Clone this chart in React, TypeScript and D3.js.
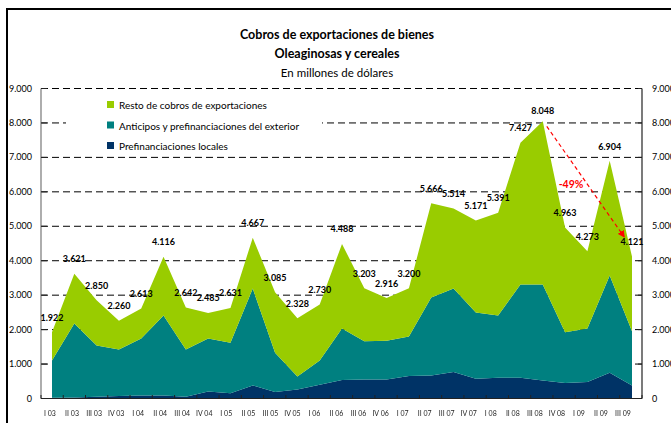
import React from "react";
import * as d3 from "d3";

const categories = [
  "I 03", "II 03", "III 03", "IV 03",
  "I 04", "II 04", "III 04", "IV 04",
  "I 05", "II 05", "III 05", "IV 05",
  "I 06", "II 06", "III 06", "IV 06",
  "I 07", "II 07", "III 07", "IV 07",
  "I 08", "II 08", "III 08", "IV 08",
  "I 09", "II 09", "III 09",
];

// Prefinanciaciones locales (millones USD)
const prefLocales = [20, 30, 50, 70, 90, 90, 50, 200, 150, 380, 190, 260, 400, 540, 550, 550, 650, 670, 770, 570, 600, 600, 520, 450, 480, 750, 380];
// Anticipos y prefinanciaciones del exterior
const anticipos = [1080, 2150, 1490, 1350, 1650, 2320, 1370, 1540, 1470, 2810, 1140, 380, 700, 1490, 1110, 1130, 1150, 2260, 2420, 1930, 1810, 2710, 2790, 1470, 1550, 2820, 1570];
// Resto de cobros de exportaciones
const resto = [822, 1441, 1310, 840, 873, 1706, 1222, 745, 1011, 1477, 1755, 1688, 1630, 2458, 1543, 1236, 1400, 2736, 2324, 2671, 2981, 4117, 4738, 3043, 2243, 3334, 2171];

const yTicks = [0, 1000, 2000, 3000, 4000, 5000, 6000, 7000, 8000, 9000];

const seriesNames = [
  "Resto de cobros de exportaciones",
  "Anticipos y prefinanciaciones del exterior",
  "Prefinanciaciones locales",
];

const W = 671;
const H = 423;
const FONT = "Lato, 'Open Sans', sans-serif";

const COLORS = { pref: "#003366", antic: "#008080", resto: "#99CC00" };

export default function App() {
  const locale = d3.formatLocale({ decimal: ",", thousands: ".", grouping: [3], currency: ["$", ""] });
  const fmt = locale.format(",d");

  const table = categories.map((c, i) => ({
    cat: c,
    pref: prefLocales[i],
    antic: anticipos[i],
    resto: resto[i],
  }));
  const totals = table.map((d) => d.pref + d.antic + d.resto);

  const plotLeft = 41;
  const plotRight = 642;
  const x = d3.scalePoint<string>().domain(categories).range([52, 632]);
  const xLabel = d3.scalePoint<string>().domain(categories).range([50, 623]);
  const y = d3.scaleLinear().domain([0, 9000]).range([398.5, 88.5]);

  const stack = d3.stack<any>().keys(["pref", "antic", "resto"]);
  const layers = stack(table);
  const area = d3
    .area<any>()
    .x((d: any) => x(d.data.cat) as number)
    .y0((d: any) => y(d[0]))
    .y1((d: any) => y(d[1]));

  const bandW = (plotRight - plotLeft) / categories.length;
  const boundaries = d3.range(categories.length + 1).map((i) => plotLeft + i * bandW);

  const labelDy: Record<number, number> = { 22: -3.5, 25: -7.5 };

  // arrow annotation between III 08 and III 09
  const iPeak = categories.indexOf("III 08");
  const iLast = categories.indexOf("III 09");
  const ax1 = (x(categories[iPeak]) as number) + 4;
  const ay1 = y(totals[iPeak]) + 5;
  const ax2 = (x(categories[iLast]) as number) - 8;
  const ay2 = y(4700);
  const pct = Math.round((totals[iLast] / totals[iPeak] - 1) * 100);

  const legendItems = [
    { name: seriesNames[0], color: COLORS.resto },
    { name: seriesNames[1], color: COLORS.antic },
    { name: seriesNames[2], color: COLORS.pref },
  ];

  return (
    <svg
      width={W}
      height={H}
      style={{ position: "absolute", left: 0, top: 0, background: "#fff" }}
      fontFamily={FONT}
    >
      <defs>
        <marker id="arrowRed" viewBox="0 0 10 10" refX="8" refY="5" markerWidth="6" markerHeight="6" orient="auto">
          <path d="M0,0 L10,5 L0,10 z" fill="#FF0000" />
        </marker>
      </defs>
      <rect x={0} y={0} width={W} height={H} fill="#fff" />
      {/* outer frame */}
      <rect x={7} y={9} width={W + 20} height={H + 20} fill="none" stroke="#000" strokeWidth={2} />

      {/* titles */}
      <text x={337} y={39} textAnchor="middle" fontWeight="bold" fontSize={12.5} fill="#000">
        Cobros de exportaciones de bienes
      </text>
      <text x={337} y={57.5} textAnchor="middle" fontWeight="bold" fontSize={12.5} fill="#000">
        Oleaginosas y cereales
      </text>
      <text x={337} y={77} textAnchor="middle" fontSize={11.5} fill="#000">
        En millones de dólares
      </text>

      {/* gridlines */}
      {yTicks.filter((t) => t > 0).map((t) => (
        <line key={"g" + t} x1={plotLeft} x2={plotRight} y1={y(t)} y2={y(t)} stroke="#000" strokeWidth={1} strokeDasharray="7,4" />
      ))}

      {/* legend background */}
      <rect x={66} y={92} width={256} height={61} fill="#fff" />

      {/* areas */}
      {layers.map((layer: any) => (
        <path key={layer.key} d={area(layer) as string} fill={(COLORS as any)[layer.key]} />
      ))}

      {/* axes */}
      <line x1={plotLeft} x2={plotLeft} y1={y(9000)} y2={y(0)} stroke="#777" strokeWidth={1.2} />
      <line x1={plotRight} x2={plotRight} y1={y(9000)} y2={y(0)} stroke="#222" strokeWidth={1.2} />
      <line x1={plotLeft} x2={plotRight} y1={y(0)} y2={y(0)} stroke="#222" strokeWidth={1.2} />
      {yTicks.map((t) => (
        <g key={"yt" + t}>
          <line x1={plotLeft} x2={plotLeft + 6} y1={y(t)} y2={y(t)} stroke="#222" strokeWidth={1} />
          <line x1={plotRight - 4} x2={plotRight} y1={y(t)} y2={y(t)} stroke="#222" strokeWidth={1} />
          <text x={32} y={y(t) + 3} textAnchor="end" fontSize={9} fill="#000">
            {fmt(t)}
          </text>
          <text x={652} y={y(t) + 3} textAnchor="start" fontSize={9} fill="#000">
            {fmt(t)}
          </text>
        </g>
      ))}
      {boundaries.map((bx, i) => (
        <line key={"xt" + i} x1={bx} x2={bx} y1={y(0)} y2={y(0) - 3.5} stroke="#222" strokeWidth={1} />
      ))}
      <g opacity={0.99} style={{ willChange: "transform" }}>
        {categories.map((c) => (
          <text key={"xl" + c} x={xLabel(c)} y={416} textAnchor="middle" fontSize={7} fill="#222">
            {c}
          </text>
        ))}
      </g>

      {/* legend */}
      {legendItems.map((it, i) => (
        <g key={"lg" + i}>
          <rect x={107} y={101 + i * 20.5} width={7} height={7} fill={it.color} />
          <text x={119} y={109 + i * 20.5} fontSize={10} fill="#000">
            {it.name}
          </text>
        </g>
      ))}

      {/* total labels */}
      {totals.map((t, i) => (
        <text
          key={"tl" + i}
          x={x(categories[i])}
          y={y(t) - 11.5 + (labelDy[i] !== undefined ? labelDy[i] + 8 : 0)}
          textAnchor="middle"
          fontSize={9}
          fontWeight="bold"
          fill="#000"
        >
          {fmt(t)}
        </text>
      ))}

      {/* annotation */}
      <line x1={ax1} y1={ay1} x2={ax2} y2={ay2} stroke="#FF0000" strokeWidth={1.2} strokeDasharray="4,3" markerEnd="url(#arrowRed)" />
      <text x={571} y={188} textAnchor="middle" fontSize={10.5} fontWeight="bold" fill="#FF0000">
        {pct}%
      </text>
    </svg>
  );
}
